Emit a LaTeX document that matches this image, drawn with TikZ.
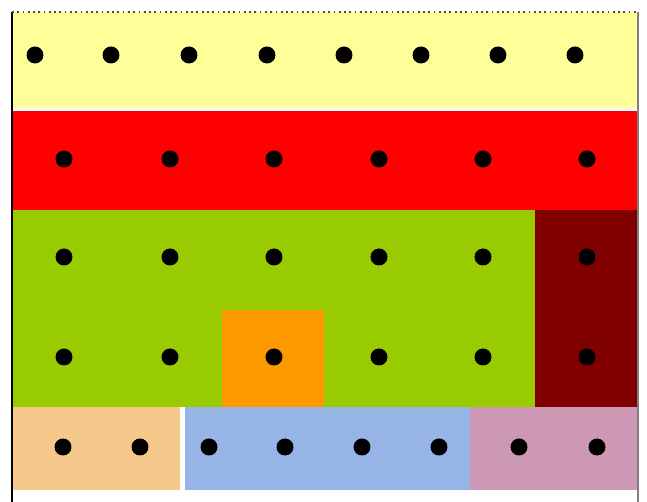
\documentclass[tikz,border=0pt]{standalone}
\usepackage{tikz}
\definecolor{bandyellow}{RGB}{255,255,153}
\definecolor{bandred}{RGB}{255,0,0}
\definecolor{fieldgreen}{RGB}{153,204,0}
\definecolor{darkmaroon}{RGB}{128,0,0}
\definecolor{squareorange}{RGB}{255,153,0}
\definecolor{blocktan}{RGB}{245,201,140}
\definecolor{blockblue}{RGB}{150,180,230}
\definecolor{blockpink}{RGB}{205,152,180}
\tikzset{
  dot/.style={circle, fill=black, inner sep=0pt, minimum size=0.34cm},
  frameline/.style={line width=1.2pt},
}

\begin{document}
\begin{tikzpicture}[x=0.02cm, y=-0.02cm]
  \useasboundingbox (0,0) rectangle (647,502);

  % Bands
  \fill[bandyellow] (12,12) rectangle (638,108);
  \fill[bandred] (12,111) rectangle (638,210);
  \fill[fieldgreen] (12,210) rectangle (535,407);
  \fill[darkmaroon] (535,210) rectangle (638,407);
  \fill[squareorange] (222,310) rectangle (324,407);

  % Bottom blocks
  \fill[blocktan] (12,407) rectangle (180,490);
  \fill[blockblue] (185,407) rectangle (470,490);
  \fill[blockpink] (470,407) rectangle (638,490);

  % Frame
  \draw[frameline, black] (12,12) -- (12,502);
  \draw[line width=0.8pt, gray] (638,12) -- (638,502);
  \draw[line width=1pt, black!70, dotted] (12,12) -- (638,12);

  % Top row: eight dots
  \foreach \i/\x in {1/35, 2/111, 3/189, 4/267, 5/344, 6/421, 7/498, 8/575} {
    \node[dot] (t\i) at (\x, 55) {};
  }

  % Middle rows: six dots each
  \foreach \r/\y in {a/159, b/257, c/357} {
    \foreach \i/\x in {1/64, 2/170, 3/274, 4/379, 5/483, 6/587} {
      \node[dot] (m\r\i) at (\x, \y) {};
    }
  }

  % Bottom row: eight dots
  \foreach \i/\x in {1/63, 2/140, 3/209, 4/285, 5/362, 6/439, 7/519, 8/597} {
    \node[dot] (b\i) at (\x, 447) {};
  }

\end{tikzpicture}
\end{document}
